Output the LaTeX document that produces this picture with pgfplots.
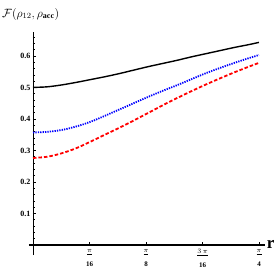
\documentclass[border=0pt]{standalone}
\usepackage{fontspec}
\setmainfont{Liberation Serif}
\usepackage{pgfplots}
\usepackage{pgfplotstable}
\pgfplotsset{compat=1.18}
\usetikzlibrary{calc}

\pgfplotstableread{
r F
0.00 0.500
0.05 0.502
0.10 0.508
0.15 0.516
0.20 0.525
0.25 0.534
0.30 0.544
0.35 0.555
0.40 0.566
0.45 0.576
0.50 0.586
0.55 0.597
0.60 0.607
0.65 0.617
0.70 0.627
0.75 0.636
0.785 0.643
}\blackdata

\pgfplotstableread{
r F
0.00 0.357
0.05 0.359
0.10 0.365
0.15 0.376
0.20 0.391
0.25 0.410
0.30 0.430
0.35 0.450
0.40 0.470
0.45 0.489
0.50 0.507
0.55 0.526
0.60 0.545
0.65 0.562
0.70 0.578
0.75 0.593
0.785 0.603
}\bluedata

\pgfplotstableread{
r F
0.00 0.276
0.05 0.280
0.10 0.291
0.15 0.307
0.20 0.328
0.25 0.350
0.30 0.372
0.35 0.395
0.40 0.419
0.45 0.443
0.50 0.466
0.55 0.488
0.60 0.509
0.65 0.529
0.70 0.548
0.75 0.566
0.785 0.578
}\reddata

\begin{document}
\begin{tikzpicture}
\begin{axis}[name=ax, scale only axis, width=236pt, height=223pt,
  axis lines=middle, axis line style={-, black},
  x axis line style={line width=1.4pt},
  y axis line style={line width=0.9pt},
  xmin=-0.0139, xmax=0.806, ymin=-0.032, ymax=0.676,
  clip=false,
  tick align=inside,
  major tick length=3pt, minor tick length=1.6pt,
  tick style={black, line width=0.5pt},
  xtick={0.19635,0.392699,0.589049,0.785398},
  xticklabels={
    {$\underline{\pi}$\\[6pt]16},
    {$\underline{\pi}$\\[6pt]8},
    {$\underline{3\,\pi}$\\[6pt]16},
    {$\underline{\pi}$\\[6pt]4}},
  xticklabel style={font=\fontsize{7}{8}\selectfont\bfseries, align=center, yshift=-1pt},
  ytick={0.1,0.2,0.3,0.4,0.5,0.6},
  yticklabels={0.1,0.2,0.3,0.4,0.5,0.6},
  minor ytick={0.02,0.04,0.06,0.08,0.12,0.14,0.16,0.18,0.22,0.24,0.26,0.28,0.32,0.34,0.36,0.38,0.42,0.44,0.46,0.48,0.52,0.54,0.56,0.58,0.62,0.64,0.66},
  yticklabel style={font=\fontsize{8}{9}\selectfont\bfseries, xshift=1pt},
]
\addplot[black, line width=1.4pt, smooth] table[x=r, y=F] {\blackdata};
\addplot[blue, line width=1.8pt, smooth, dash pattern=on 1.3pt off 1.1pt] table[x=r, y=F] {\bluedata};
\addplot[red, line width=1.8pt, smooth, dash pattern=on 3.5pt off 2pt] table[x=r, y=F] {\reddata};
\node[anchor=west, inner sep=0pt] at (axis cs:0.812,0) {\fontsize{17}{18}\selectfont\bfseries r};
\end{axis}
\node[anchor=west, inner sep=0pt, font=\fontsize{12}{13}\selectfont] at ($(ax.north west)+(-27pt,18pt)$) {$\mathcal{F}(\rho_{12},\rho_{\mathbf{acc}})$};
\path[use as bounding box] ($(ax.south west)+(-29pt,-22pt)$) rectangle ($(ax.north east)+(12pt,32pt)$);
\end{tikzpicture}
\end{document}
